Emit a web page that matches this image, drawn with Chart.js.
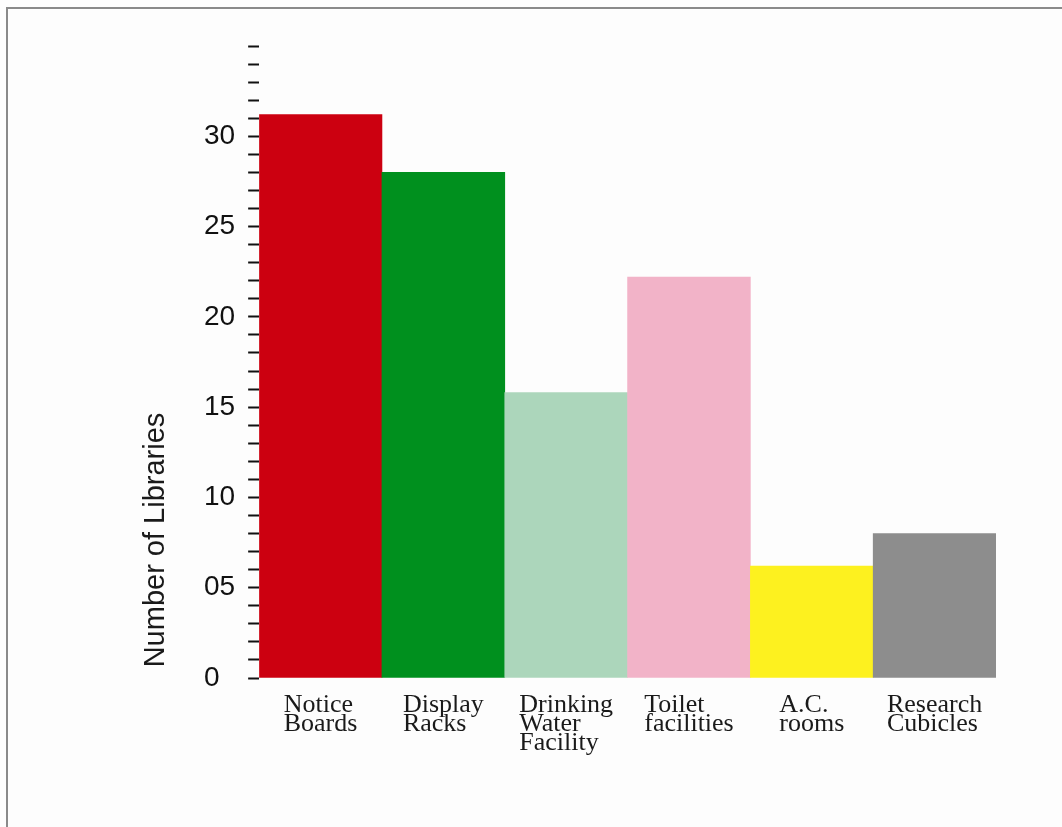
<!DOCTYPE html>
<html>
<head>
<meta charset="utf-8">
<script src="https://cdn.jsdelivr.net/npm/chart.js@4"></script>
<style>
	html, body {
		margin: 0;
		padding: 0;
		background: #fdfdfd;
	}
	.frame {
		position: absolute;
		left: 6px;
		top: 7px;
		right: 0;
		bottom: 0;
		border-top: 2px solid #8a8a8a;
		border-left: 2px solid #8a8a8a;
	}
	#facility-chart {
		position: absolute;
		left: 0;
		top: 0;
	}
</style>
</head>
<body>
<div class="frame"></div>
<canvas id="facility-chart" width="1062" height="827"></canvas>
<script>
const categories = [
	["Notice", "Boards"],
	["Display", "Racks"],
	["Drinking", "Water", "Facility"],
	["Toilet", "facilities"],
	["A.C.", "rooms"],
	["Research", "Cubicles"],
];
const libraryCounts = [31.2, 28, 15.8, 22.2, 6.2, 8];
const barColors = ["#cc0010", "#00901e", "#acd6bb", "#f2b3c8", "#fdf11f", "#8d8d8d"];
const yTickLabels = ["0", "05", "10", "15", "20", "25", "30"];
const yAxisTitle = "Number of Libraries";

// カテゴリ名は複数行を左揃えにして、ブロックごとに棒の中央へ置く
const categoryLabels = {
	id: "categoryLabels",
	afterDraw(chart) {
		const { ctx, scales } = chart;
		const xScale = scales.x;
		const lineHeight = 19;
		ctx.save();
		ctx.font = "26px 'Liberation Serif', 'Times New Roman', serif";
		ctx.fillStyle = "#1a1a1a";
		ctx.textAlign = "left";
		ctx.textBaseline = "alphabetic";
		categories.forEach((lines, i) => {
			const center = xScale.getPixelForValue(i);
			const widest = Math.max(...lines.map((l) => ctx.measureText(l).width));
			const left = center - widest / 2;
			lines.forEach((line, j) => {
				ctx.fillText(line, left, chart.chartArea.bottom + 34 + j * lineHeight);
			});
		});
		ctx.restore();
	},
};

// 縦軸タイトル
const axisTitle = {
	id: "axisTitle",
	afterDraw(chart) {
		const { ctx, chartArea } = chart;
		ctx.save();
		ctx.font = "29px 'Liberation Sans', Arial, sans-serif";
		ctx.fillStyle = "#1a1a1a";
		ctx.textAlign = "center";
		ctx.textBaseline = "middle";
		ctx.translate(156, chartArea.bottom - 138);
		ctx.rotate(-Math.PI / 2);
		ctx.fillText(yAxisTitle, 0, 0);
		ctx.restore();
	},
};

const ctx = document.getElementById("facility-chart").getContext("2d");
new Chart(ctx, {
	type: "bar",
	data: {
		labels: categories.map((c) => c.join(" ")),
		datasets: [
			{
				label: yAxisTitle,
				data: libraryCounts,
				backgroundColor: barColors,
				borderWidth: 0,
				categoryPercentage: 1,
				barPercentage: 1,
			},
		],
	},
	options: {
		responsive: false,
		animation: false,
		layout: {
			padding: { left: 204, right: 66, top: 46, bottom: 149 },
		},
		plugins: {
			legend: { display: false },
			tooltip: { enabled: false },
		},
		scales: {
			x: {
				display: false,
			},
			y: {
				min: 0,
				max: 35,
				border: { display: false },
				grid: {
					drawOnChartArea: false,
					drawTicks: true,
					tickLength: 14,
					tickWidth: 2,
					tickColor: "#111",
					tickBorderDash: [0, 3, 11, 40],
				},
				ticks: {
					stepSize: 1,
					autoSkip: false,
					crossAlign: "far",
					padding: 5,
					color: "#111",
					font: { family: "'Liberation Sans', Arial, sans-serif", size: 28 },
					callback: (value) => (value % 5 === 0 && value <= 30 ? yTickLabels[value / 5] : ""),
				},
			},
		},
	},
	plugins: [categoryLabels, axisTitle],
});
</script>
</body>
</html>
